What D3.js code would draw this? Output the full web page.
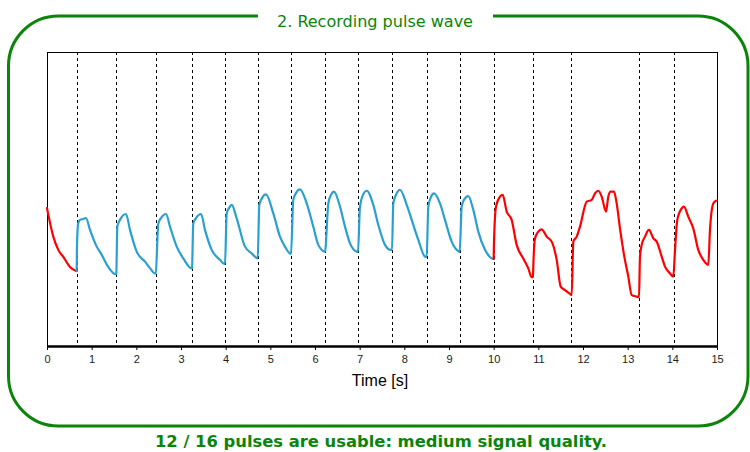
<!DOCTYPE html>
<html>
<head>
<meta charset="utf-8">
<script src="https://cdn.jsdelivr.net/npm/d3@7"></script>
<style>
  html, body { margin: 0; padding: 0; background: #fff; }
  svg { display: block; }
</style>
</head>
<body>
<svg id="chart" width="750" height="452"></svg>
<script>
// ---- data ----
const titleText = "2. Recording pulse wave";
const qualityText = "12 / 16 pulses are usable: medium signal quality.";
const xTicks = [0,1,2,3,4,5,6,7,8,9,10,11,12,13,14,15];
const xLabel = "Time [s]";
const usableWindow = [0.665, 10.0];
const pulseOnsets = [0.665,1.545,2.433,3.246,3.985,4.717,5.462,6.224,6.962,7.723,8.50,9.24,10.0,10.88,11.74,13.26,14.04];

const timeS = [
  0,0.141,0.253,0.365,0.515,0.643,0.665,
  0.67,0.70,0.739,0.813,0.873,0.963,1.113,1.225,1.372,1.538,1.551,
  1.574,1.634,1.769,1.858,2.008,2.194,2.306,2.418,2.434,
  2.492,2.552,2.664,2.754,2.904,3.051,3.240,3.246,
  3.275,3.336,3.448,3.537,3.687,3.873,3.969,3.985,
  4.023,4.075,4.135,4.247,4.433,4.583,4.717,
  4.753,4.813,4.903,5.066,5.216,5.328,5.463,
  5.514,5.574,5.664,5.814,5.962,6.074,6.224,
  6.298,6.358,6.425,6.560,6.672,6.784,6.933,6.962,
  7.007,7.074,7.157,7.305,7.417,7.567,7.695,7.724,
  7.753,7.813,7.903,8.053,8.165,8.313,8.463,8.50,
  8.537,8.597,8.664,8.798,8.910,9.060,9.224,9.239,
  9.284,9.335,9.432,9.544,9.656,9.806,9.956,10.0,
  10.005,10.052,10.142,10.202,10.292,10.403,10.515,10.663,10.775,10.851,10.88,
  10.887,10.925,10.999,11.075,11.187,11.299,11.411,11.501,11.597,11.709,11.747,
  11.783,11.859,11.933,12.083,12.195,12.269,12.343,12.419,12.515,12.566,12.620,12.694,12.754,12.828,12.918,13.014,13.090,13.202,13.254,
  13.276,13.314,13.388,13.477,13.574,13.650,13.762,13.836,13.948,14.022,
  14.060,14.111,14.210,14.261,14.357,14.469,14.581,14.693,14.805,14.843,14.917,14.978
];
const amplitude = [
  46.9,37.2,32.7,30.3,26.9,25.6,25.5,
  33.3,41.8,42.9,43.2,43.5,39.5,33.8,31.0,26.9,24.4,24.7,
  40.6,42.9,44.9,39.5,32.1,28.7,26.5,24.7,24.8,
  41.7,43.5,44.9,40.6,33.8,29.8,26.4,26.5,
  41.7,43.5,44.9,39.5,32.7,29.3,27.9,27.9,
  45.1,46.9,48.0,43.4,33.8,31.5,29.8,
  48.0,50.3,51.6,45.1,37.2,33.8,31.3,
  49.7,52.0,53.3,48.5,40.6,34.4,32.1,
  48.5,51.4,52.5,47.4,40.6,34.9,32.1,32.0,
  47.4,51.4,52.8,48.0,41.2,34.4,32.7,32.7,
  48.5,51.4,53.1,48.0,42.9,36.1,30.4,30.3,
  47.4,50.7,51.9,48.5,42.9,35.5,32.1,32.0,
  47.4,49.7,51.0,46.3,38.9,32.7,29.8,29.6,
  33.8,47.4,50.8,51.4,45.7,42.9,34.4,29.8,26.4,23.4,23.5,
  27.0,36.6,38.9,39.7,37.2,35.5,29.3,20.2,19.0,17.7,17.3,
  35.5,37.2,40.6,49.1,49.7,51.9,52.8,50.8,45.7,50.8,52.5,52.5,48.5,40.0,31.0,23.6,17.3,16.8,16.6,
  30.4,34.4,37.2,39.5,36.6,35.5,30.4,27.0,24.7,23.6,
  32.7,42.9,46.8,47.4,44.0,40.0,32.7,29.3,27.6,39.5,48.5,49.4
];

// ---- layout ----
const plot = { left: 47, right: 717, top: 52, bottom: 346 };
const green = "#0a850a";

const svg = d3.select("#chart");

// Rounded green frame with a gap for the title
const bx0 = 8.5, by0 = 16, bx1 = 748, by1 = 426, r = 50;
const gapL = 258, gapR = 493;
const framePath = d3.path();
framePath.moveTo(gapR, by0);
framePath.lineTo(bx1 - r, by0);
framePath.arcTo(bx1, by0, bx1, by0 + r, r);
framePath.lineTo(bx1, by1 - r);
framePath.arcTo(bx1, by1, bx1 - r, by1, r);
framePath.lineTo(bx0 + r, by1);
framePath.arcTo(bx0, by1, bx0, by1 - r, r);
framePath.lineTo(bx0, by0 + r);
framePath.arcTo(bx0, by0, bx0 + r, by0, r);
framePath.lineTo(gapL, by0);
svg.append("path").attr("d", framePath.toString())
  .attr("fill", "none").attr("stroke", green).attr("stroke-width", 3);

svg.append("text").attr("x", 375).attr("y", 27)
  .attr("text-anchor", "middle")
  .attr("font-family", "'DejaVu Sans Condensed', 'DejaVu Sans', sans-serif")
  .attr("font-size", 16).attr("fill", green)
  .attr("textLength", 196).attr("lengthAdjust", "spacingAndGlyphs")
  .text(titleText);

svg.append("text").attr("x", 381).attr("y", 447)
  .attr("text-anchor", "middle")
  .attr("font-family", "'DejaVu Sans Condensed', 'DejaVu Sans', sans-serif")
  .attr("font-weight", "bold")
  .attr("font-size", 16).attr("fill", green)
  .attr("textLength", 452).attr("lengthAdjust", "spacingAndGlyphs")
  .text(qualityText);

// scales
const x = d3.scaleLinear().domain([0, 15]).range([plot.left, plot.right]);
const y = d3.scaleLinear().domain([0, 100]).range([plot.bottom, plot.top]);

// plot frame
svg.append("rect")
  .attr("x", plot.left + 0.5).attr("y", plot.top + 0.5)
  .attr("width", plot.right - plot.left).attr("height", plot.bottom - plot.top)
  .attr("fill", "#fff").attr("stroke", "#000").attr("stroke-width", 1);

// pulse onset dashed lines
svg.append("g").selectAll("line").data(pulseOnsets).join("line")
  .attr("x1", d => Math.round(x(d)) + 0.5).attr("x2", d => Math.round(x(d)) + 0.5)
  .attr("y1", plot.top).attr("y2", plot.bottom)
  .attr("stroke", "#000").attr("stroke-width", 1)
  .attr("stroke-dasharray", "3,3");

// signal split into usable (blue) and unusable (red) parts
const pts = timeS.map((t, i) => ({ t, v: amplitude[i] }));
const segStart = pts.filter(p => p.t <= usableWindow[0]);
const segMid = pts.filter(p => p.t >= usableWindow[0] && p.t <= usableWindow[1]);
const segEnd = pts.filter(p => p.t >= usableWindow[1]);
const line = d3.line().x(p => x(p.t)).y(p => y(p.v)).curve(d3.curveMonotoneX);
const g = svg.append("g");
[[segStart, "#ff0000"], [segMid, "#2aa0d2"], [segEnd, "#ff0000"]].forEach(([d, c]) => {
  g.append("path").datum(d).attr("d", line)
    .attr("fill", "none").attr("stroke", c).attr("stroke-width", 2.2)
    .attr("stroke-linejoin", "round").attr("stroke-linecap", "round");
});

// x axis
const axis = svg.append("g").attr("transform", `translate(0,${plot.bottom})`)
  .call(d3.axisBottom(x).tickValues(xTicks).tickFormat(d3.format("d")).tickSize(4).tickSizeOuter(0));
axis.select(".domain").attr("stroke", "#000").attr("stroke-width", 2.5);
axis.selectAll(".tick line").attr("stroke", "#000");
axis.selectAll(".tick text")
  .attr("font-family", "Arial, 'Liberation Sans', sans-serif")
  .attr("font-size", 11).attr("fill", "#222").attr("dy", "0.9em");

svg.append("text").attr("x", 380).attr("y", 386)
  .attr("text-anchor", "middle")
  .attr("font-family", "Arial, 'Liberation Sans', sans-serif")
  .attr("font-size", 16).attr("fill", "#000")
  .text(xLabel);
</script>
</body>
</html>
